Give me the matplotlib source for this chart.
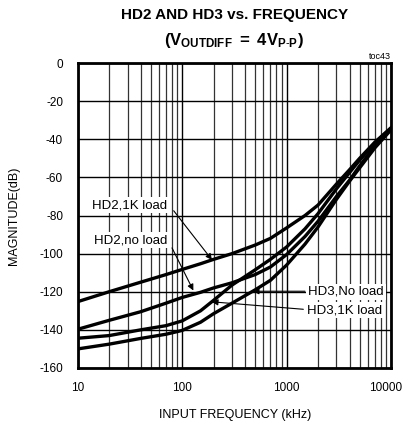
import numpy as np
import matplotlib
matplotlib.use('Agg')
import matplotlib.pyplot as plt
from matplotlib.ticker import FixedLocator, LogLocator, NullFormatter
from matplotlib.transforms import ScaledTranslation

plt.rcParams['font.family'] = ['Liberation Sans', 'DejaVu Sans']
plt.rcParams['axes.unicode_minus'] = False
plt.rcParams['mathtext.fontset'] = 'custom'
plt.rcParams['mathtext.rm'] = 'Liberation Sans'
plt.rcParams['mathtext.bf'] = 'Liberation Sans:bold'

# curves (kHz, dB)
freq = [10, 20, 40, 70, 100, 150, 200, 300, 500, 700, 1000, 1500, 2000, 3000, 4000, 5000, 7000, 10000]
hd2_1k = [-125.2, -120, -115, -111, -108.3, -105.3, -103, -100, -95.5, -92, -86.5,
          -80, -74.5, -63.5, -56, -50, -41.5, -34]
hd2_noload = [-139.7, -135, -130.5, -126, -123, -120.3, -118, -115.3, -111, -107, -100.5,
              -91, -83, -70, -61.5, -54, -43.5, -34.5]
hd3_1k = [-144.4, -143, -140, -137.8, -135.3, -130, -124.5, -116.5, -108.5, -103, -96.5,
          -87, -79, -66, -57.5, -51, -42, -34]
hd3_noload = [-150, -147.5, -144.5, -142.3, -140.3, -136, -131.5, -126, -119, -114, -106,
              -95, -86, -71.5, -62, -55, -44.5, -35]

x_ticks = [10, 100, 1000, 10000]
x_labels = ['10', '100', '1000', '10000']
y_ticks = list(range(-160, 1, 20))

fig = plt.figure(figsize=(4.04, 4.26), dpi=100)
ax = fig.add_axes([0.1923, 0.1362, 0.7757, 0.7158])

for vals in [hd2_1k, hd2_noload, hd3_1k, hd3_noload]:
    ax.plot(freq, vals, color='black', lw=2.4, zorder=3)

ax.set_xscale('log')
ax.set_xlim(10, 10000)
ax.set_ylim(-160, 0)
ax.xaxis.set_major_locator(FixedLocator(x_ticks))
ax.set_xticklabels(x_labels)
ax.xaxis.set_minor_locator(LogLocator(base=10, subs=range(2, 10)))
ax.xaxis.set_minor_formatter(NullFormatter())
ax.set_yticks(y_ticks)
ax.tick_params(which='both', length=0, labelsize=8.5)
ax.tick_params(axis='x', pad=10)
ax.tick_params(axis='y', pad=10.5)
ax.grid(which='major', color='black', lw=1.0)
ax.grid(which='minor', axis='x', color='#333333', lw=0.9)
for s in ax.spines.values():
    s.set_linewidth(2)

# last x label sits a bit inside the figure
last = ax.get_xticklabels()[-1]
last.set_transform(last.get_transform() + ScaledTranslation(-4 / 72, 0, fig.dpi_scale_trans))

def on_curve(vals, f):
    return np.interp(np.log10(f), np.log10(freq), vals)

arrow = dict(arrowstyle='-|>', color='black', lw=0.8, mutation_scale=9,
             shrinkA=0, shrinkB=0)
box = dict(fc='white', ec='none', pad=1.5)

# HD2 labels on the left with slanted arrows
ax.text(13.7, -74.5, 'HD2,1K load', fontsize=9.5, ha='left', va='center', bbox=box, zorder=4)
ax.annotate('', xy=(193, on_curve(hd2_1k, 193)), xytext=(83, -77.5), arrowprops=arrow, zorder=5)
ax.text(14.2, -92.9, 'HD2,no load', fontsize=9.5, ha='left', va='center', bbox=box, zorder=4)
ax.annotate('', xy=(128, on_curve(hd2_noload, 128) + 2), xytext=(80, -97), arrowprops=arrow, zorder=5)

# HD3 labels on the right with leader lines
ax.text(1604, -120, 'HD3,No load', fontsize=9.5, ha='left', va='center', bbox=box, zorder=4)
ax.annotate('', xy=(474, on_curve(hd3_noload, 474)), xytext=(1500, on_curve(hd3_noload, 474)),
            arrowprops=arrow, zorder=5)
ax.text(1560, -129.6, 'HD3,1K load', fontsize=9.5, ha='left', va='center', bbox=box, zorder=4)
ax.annotate('', xy=(192, on_curve(hd3_1k, 192)), xytext=(1446, -129.2), arrowprops=arrow, zorder=5)

fig.text(235 / 404, 1 - 15 / 426, 'HD2 AND HD3 vs. FREQUENCY', fontsize=11, fontweight='bold',
         ha='center', va='center')
fig.text(234 / 404, 1 - 45 / 426, r'$\mathbf{(V_{OUTDIFF}\;=\;4V_{P\text{-}P})}$', fontsize=12,
         ha='center', va='baseline')
fig.text(391 / 404, 1 - 61 / 426, 'toc43', fontsize=6.5, ha='right', va='bottom')
fig.text(235 / 404, 1 - 415 / 426, 'INPUT FREQUENCY (kHz)', fontsize=9, ha='center', va='center')
fig.text(14 / 404, 1 - 216 / 426, 'MAGNITUDE(dB)', fontsize=9, rotation=90, ha='center', va='center')

fig.savefig('out.png', dpi=100)
